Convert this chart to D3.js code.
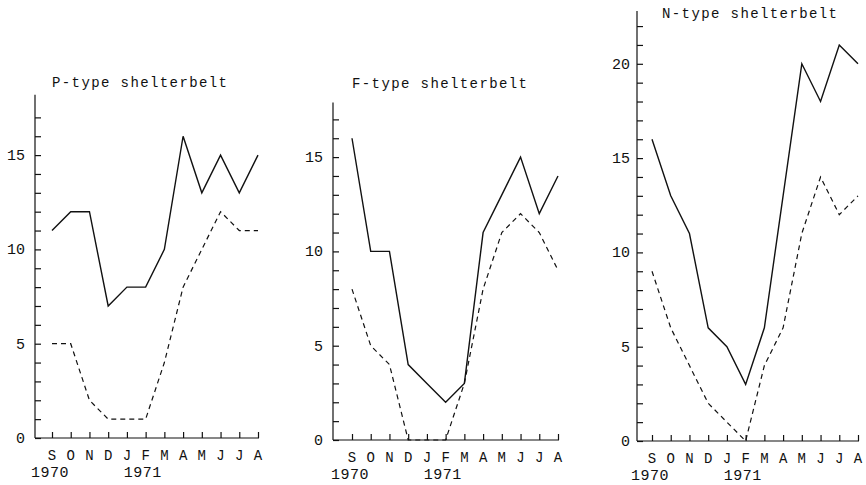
<!DOCTYPE html>
<html>
<head>
<meta charset="utf-8">
<script src="https://cdn.jsdelivr.net/npm/d3@7"></script>
<style>
  body { margin: 0; background: #fff; }
  text { font-family: "Liberation Mono", "DejaVu Sans Mono", monospace; fill: #111; }
</style>
</head>
<body>
<svg id="chart" width="866" height="485"></svg>
<script>
// month labels along the bottom, Sept 1970 to Aug 1971
const months = ["S", "O", "N", "D", "J", "F", "M", "A", "M", "J", "J", "A"];
const titles = ["P-type shelterbelt", "F-type shelterbelt", "N-type shelterbelt"];

// solid line (upper series) and dashed line (lower series) per shelterbelt
const pSolid  = [11, 12, 12, 7, 8, 8, 10, 16, 13, 15, 13, 15];
const pDashed = [5, 5, 2, 1, 1, 1, 4, 8, 10, 12, 11, 11];
const fSolid  = [16, 10, 10, 4, 3, 2, 3, 11, 13, 15, 12, 14];
const fDashed = [8, 5, 4, 0, 0, 0, 3, 8, 11, 12, 11, 9];
const nSolid  = [16, 13, 11, 6, 5, 3, 6, 13, 20, 18, 21, 20];
const nDashed = [9, 6, 4, 2, 1, 0, 4, 6, 11, 14, 12, 13];

const yTicksLabelled = [[0, 5, 10, 15], [0, 5, 10, 15], [0, 5, 10, 15, 20]];

const svg = d3.select("#chart");
const unit = 18.86;

// layout of each little panel
const panels = [
  { axisX: 35,  firstX: 52,  zeroY: 438, top: 18.2, maxTick: 17, titleX: 52,  titleY: 87,
    solid: pSolid, dashed: pDashed, gap: 10 },
  { axisX: 333, firstX: 352, zeroY: 440, top: 17.9, maxTick: 17, titleX: 352, titleY: 88,
    solid: fSolid, dashed: fDashed, gap: 10 },
  { axisX: 637, firstX: 652, zeroY: 441, top: 22.8, maxTick: 22, titleX: 662, titleY: 18,
    solid: nSolid, dashed: nDashed, gap: 7 }
];

panels.forEach((p, i) => {
  const g = svg.append("g");

  const x = d3.scaleLinear().domain([0, 11]).range([p.firstX, p.firstX + 206]);
  const y = d3.scaleLinear().domain([0, p.top]).range([p.zeroY, p.zeroY - p.top * unit]);

  // y axis: line + inward ticks at every integer
  const yAxis = d3.axisRight(y)
    .tickValues(d3.range(0, p.maxTick + 1))
    .tickSize(6)
    .tickFormat("");
  g.append("g")
    .attr("transform", `translate(${p.axisX},0)`)
    .call(yAxis)
    .call(a => a.select(".domain").attr("d", `M0,${y(0)}V${y(p.top)}`))
    .selectAll("line, path").attr("stroke", "#111").attr("stroke-width", 1.2);

  g.selectAll(".ylab")
    .data(yTicksLabelled[i])
    .join("text")
    .attr("x", p.axisX - p.gap)
    .attr("y", d => y(d) + 5)
    .attr("text-anchor", "end")
    .attr("font-size", 15)
    .text(d => d);

  // x axis: line from y axis to the last month, ticks pointing up
  const xAxis = d3.axisTop(x)
    .tickValues(d3.range(0, 12))
    .tickSize(6)
    .tickFormat("");
  g.append("g")
    .attr("transform", `translate(0,${y(0)})`)
    .call(xAxis)
    .call(a => a.select(".domain").attr("d", `M${p.axisX},0H${x(11) + 1}`))
    .selectAll("line, path").attr("stroke", "#111").attr("stroke-width", 1.2);

  g.selectAll(".mlab")
    .data(months)
    .join("text")
    .attr("x", (d, j) => x(j))
    .attr("y", y(0) + 22)
    .attr("text-anchor", "middle")
    .attr("font-size", 14)
    .text(d => d);

  g.append("text")
    .attr("x", x(0) - 2)
    .attr("y", y(0) + 39)
    .attr("text-anchor", "middle")
    .attr("font-size", 15)
    .attr("letter-spacing", 0.5)
    .text("1970");
  g.append("text")
    .attr("x", x(5) - 3)
    .attr("y", y(0) + 39)
    .attr("text-anchor", "middle")
    .attr("font-size", 15)
    .attr("letter-spacing", 0.5)
    .text("1971");

  g.append("text")
    .attr("x", p.titleX)
    .attr("y", p.titleY)
    .attr("font-size", 14)
    .attr("letter-spacing", 1.4)
    .text(titles[i]);

  const line = d3.line()
    .x((d, j) => x(j))
    .y(d => y(d));

  g.append("path")
    .datum(p.solid)
    .attr("fill", "none")
    .attr("stroke", "#111")
    .attr("stroke-width", 1.4)
    .attr("d", line);

  g.append("path")
    .datum(p.dashed)
    .attr("fill", "none")
    .attr("stroke", "#111")
    .attr("stroke-width", 1.2)
    .attr("stroke-dasharray", "5,4")
    .attr("d", line);
});
</script>
</body>
</html>
